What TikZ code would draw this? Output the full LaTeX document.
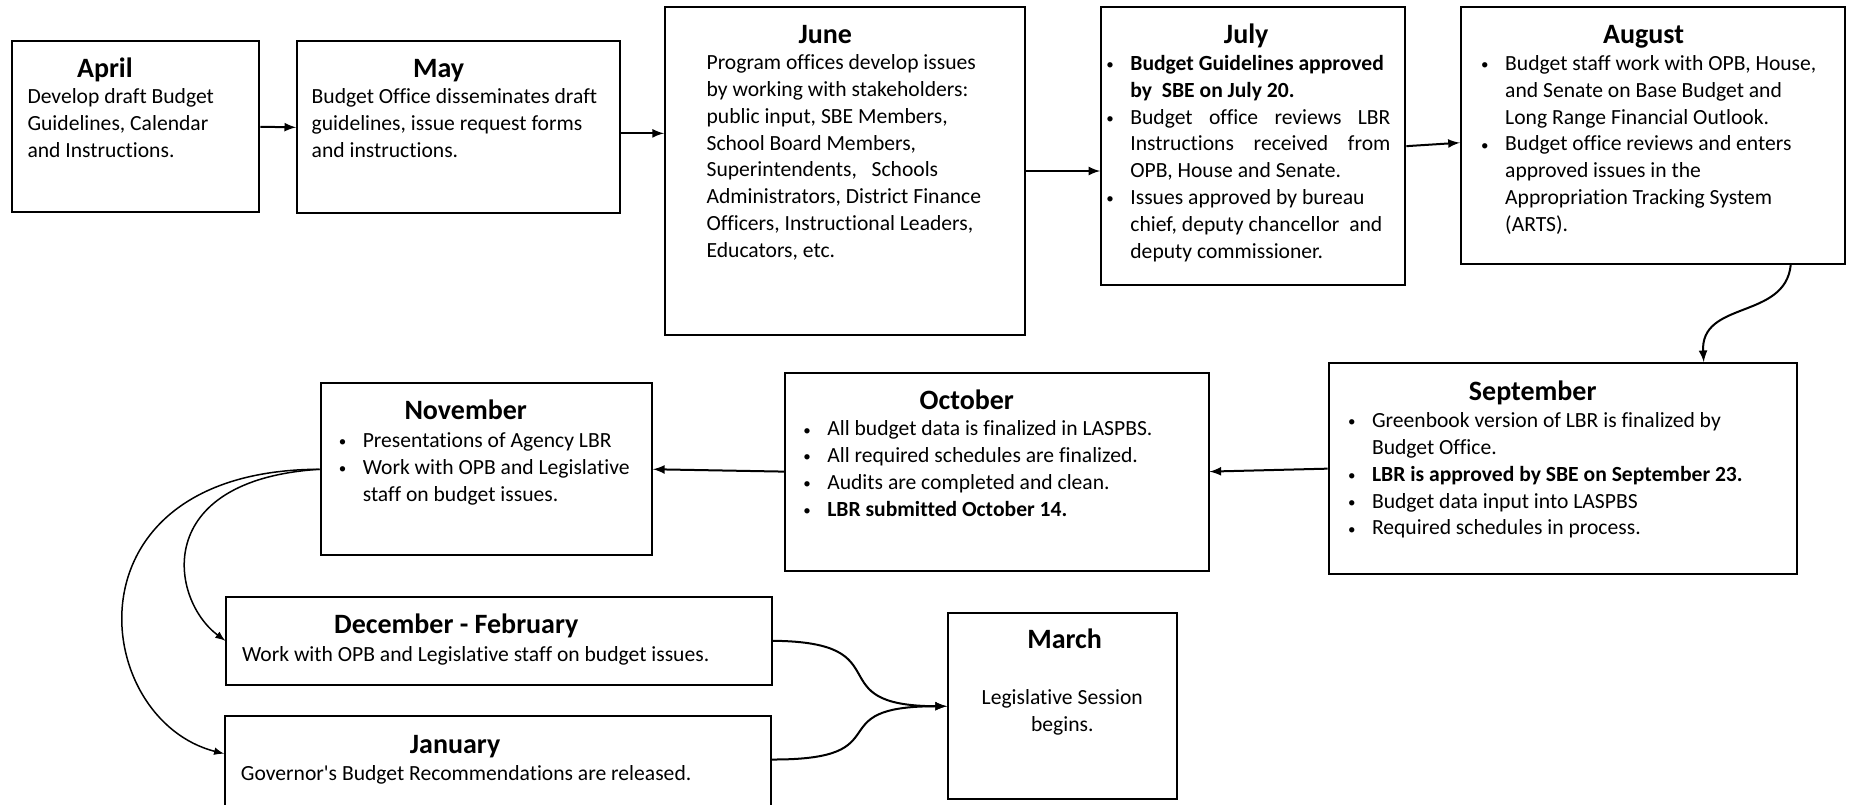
\documentclass[tikz,border=0pt]{standalone}
\usepackage{fontspec}
\setmainfont{Carlito}[Ligatures={NoCommon}]
\usepackage{tikz}

\newcommand{\bodysize}{\fontsize{10.8}{13.4}\selectfont}
\newcommand{\itm}{\makebox[12pt][l]{\raisebox{0.4pt}{\fontsize{7.5}{7.5}\selectfont\textbullet}}}
\newcommand{\cnt}{\hspace*{12pt}}

\begin{document}
\begin{tikzpicture}[x=0.5pt,y=0.5pt]
        \tikzstyle{every node}+=[inner sep=0pt]
        \tikzstyle{month}=[draw=black, line width=1pt, rectangle]
        \tikzstyle{title}=[font=\fontsize{14}{17}\selectfont\bfseries, anchor=base]
        \tikzstyle{body}=[font=\bodysize, align=left, anchor=north west]
        \tikzstyle{flow}=[->, >=latex, line width=1pt, black]
        \tikzstyle{thinflow}=[->, >=latex, line width=0.75pt, black]
        \useasboundingbox (0,0) rectangle (1849,-804);
        % boxes
        \node [month, minimum width=123.8pt, minimum height=85.45pt] (april) at (135.6,-126.75) {};
        \node [month, minimum width=161.55pt, minimum height=86.05pt] (may) at (458.65,-127.35) {};
        \node [month, minimum width=180pt, minimum height=164pt] (june) at (845,-171) {};
        \node [month, minimum width=152.1pt, minimum height=139.15pt] (july) at (1253.3,-146.15) {};
        \node [month, minimum width=192.15pt, minimum height=128.55pt] (august) at (1652.95,-135.55) {};
        \node [month, minimum width=234.05pt, minimum height=105.55pt] (sept) at (1562.75,-468.65) {};
        \node [month, minimum width=211.65pt, minimum height=99pt] (oct) at (996.85,-471.6) {};
        \node [month, minimum width=165.65pt, minimum height=86.05pt] (nov) at (486.35,-469.25) {};
        \node [month, minimum width=272.9pt, minimum height=44.2pt] (decfeb) at (499.3,-640.8) {};
        \node [month, minimum width=272.9pt, minimum height=57.15pt] (jan) at (498.1,-772.85) {};
        \node [month, minimum width=114.35pt, minimum height=93.15pt] (march) at (1062.25,-706.25) {};
        % texts
        \node [title] (aprilt) at (104.9,-77.4) {April};
        \node [body] (aprilb) at (27.1,-88.5) {Develop draft Budget\\Guidelines, Calendar\\and Instructions.};
        \node [title] (mayt) at (438.6,-77.4) {May};
        \node [body] (mayb) at (311.3,-88.5) {Budget Office disseminates draft\\guidelines, issue request forms\\and instructions.};
        \node [title] (junet) at (825.3,-43.2) {June};
        \node [body] (juneb) at (706.2,-54.3) {Program offices develop issues\\by working with stakeholders:\\public input, SBE Members,\\School Board Members,\\Superintendents,\ \ \ Schools\\Administrators, District Finance\\Officers, Instructional Leaders,\\Educators, etc.};
        \node [title] (julyt) at (1246.2,-43.2) {July};
        \node [body] (julyb) at (1106,-55) {\itm\textbf{Budget Guidelines approved}\\
            \cnt\textbf{by\ \ SBE on July 20.}\\
            \itm\makebox[130pt][s]{Budget office reviews LBR}\\
            \cnt\makebox[130pt][s]{Instructions received from}\\
            \cnt OPB, House and Senate.\\
            \itm Issues approved by bureau\\
            \cnt chief, deputy chancellor\ \ and\\
            \cnt deputy commissioner.};
        \node [title] (augustt) at (1643.5,-43.2) {August};
        \node [body] (augustb) at (1480.8,-55) {\itm Budget staff work with OPB, House,\\
            \cnt and Senate on Base Budget and\\
            \cnt Long Range Financial Outlook.\\
            \itm Budget office reviews and enters\\
            \cnt approved issues in the\\
            \cnt Appropriation Tracking System\\
            \cnt (ARTS).};
        \node [title] (septt) at (1532.7,-400.4) {September};
        \node [body] (septb) at (1347.6,-412.2) {\itm Greenbook version of LBR is finalized by\\
            \cnt Budget Office.\\
            \itm\textbf{LBR is approved by SBE on September 23.}\\
            \itm Budget data input into LASPBS\\
            \itm Required schedules in process.};
        \node [title] (octt) at (966.8,-409.9) {October};
        \node [body] (octb) at (802.9,-420.5) {\itm All budget data is finalized in LASPBS.\\
            \itm All required schedules are finalized.\\
            \itm Audits are completed and clean.\\
            \itm\textbf{LBR submitted October 14.}};
        \node [title] (novt) at (465.7,-419.3) {November};
        \node [body] (novb) at (338.4,-432.3) {\itm Presentations of Agency LBR\\
            \itm Work with OPB and Legislative\\
            \cnt staff on budget issues.};
        \node [title] (decfebt) at (456.3,-633.9) {December - February};
        \node [body] (decfebb) at (241.7,-645.7) {Work with OPB and Legislative staff on budget issues.};
        \node [title] (jant) at (455.1,-753) {January};
        \node [body] (janb) at (240.5,-764.7) {Governor\textquotesingle s Budget Recommendations are released.};
        \node [title] (marcht) at (1064.6,-648) {March};
        \node [body, align=center, anchor=north] (marchb) at (1062.3,-689.3) {Legislative Session\\begins.};
        % connectors
        \draw [flow] (april.east) -- (may.west);
        \draw [flow] ([yshift=-3pt]may.east) -- ([yshift=-3pt]may.east -| june.west);
        \draw [flow] (june.east) -- (june.east -| july.west);
        \draw [flow] (july.east) -- ([yshift=-3.6pt]august.west);
        \draw [flow] ([xshift=-27.7pt]august.south east) .. controls (1785,-320) and (1700,-300) .. ([xshift=70.5pt]sept.north);
        \draw [flow] (sept.west) -- (oct.east);
        \draw [flow] (oct.west) -- (nov.east);
        \draw [thinflow] (nov.west) .. controls (150,-480) and (170,-600) .. (decfeb.west);
        \draw [thinflow] (nov.west) .. controls (60,-470) and (90,-720) .. ([yshift=-19.5pt]jan.north west);
        \draw [flow] (decfeb.east) .. controls (905,-642) and (815,-706) .. (march.west);
        \draw [flow] ([yshift=-22.4pt]jan.north east) .. controls (905,-760) and (815,-706) .. (march.west);
\end{tikzpicture}
\end{document}
